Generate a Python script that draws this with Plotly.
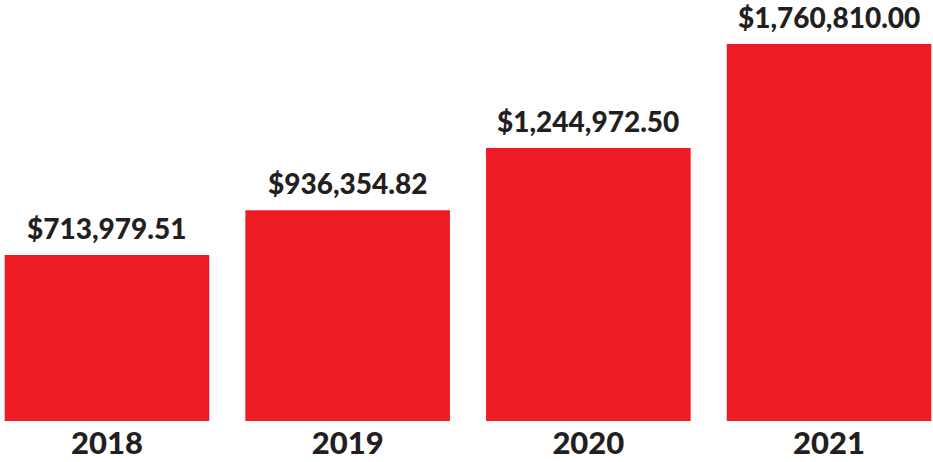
import plotly.graph_objects as go

years = ["2018", "2019", "2020", "2021"]
revenue = [713979.51, 936354.82, 1244972.50, 1760810.00]
labels = ["$713,979.51", "$936,354.82", "$1,244,972.50", "$1,760,810.00"]

RED = "#ED1C24"
INK = "#231F20"
BASE = -109600

fig = go.Figure(
    go.Bar(
        x=list(range(len(years))),
        y=[v - BASE for v in revenue],
        base=BASE,
        width=0.85,
        marker=dict(color=RED, line=dict(width=0)),
        hoverinfo="skip",
    )
)

for i, (v, t) in enumerate(zip(revenue, labels)):
    fig.add_annotation(
        x=i, y=v, text=t, showarrow=False,
        yanchor="bottom", yshift=8,
        font=dict(family="Lato", size=28, color=INK, weight=900),
    )

fig.update_layout(
    width=933, height=462,
    margin=dict(l=0, r=0, t=0, b=41),
    plot_bgcolor="white", paper_bgcolor="white",
    showlegend=False,
    xaxis=dict(
        range=[-0.4445, 3.432],
        tickmode="array", tickvals=list(range(len(years))),
        ticktext=years,
        tickfont=dict(family="Lato", size=31, color=INK, weight=900),
        ticklabelstandoff=1,
        automargin=False,
        showgrid=False, zeroline=False, showline=False, ticks="",
    ),
    yaxis=dict(
        range=[BASE, 1979000], visible=False, automargin=False,
        showgrid=False, zeroline=False,
    ),
)

fig.write_html("out.html")
